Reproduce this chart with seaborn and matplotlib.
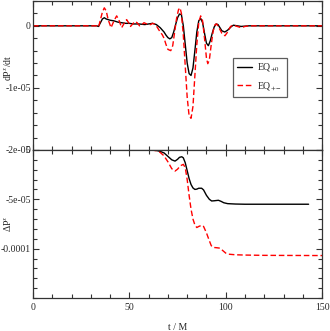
import numpy as np
import pandas as pd
import matplotlib
matplotlib.use("Agg")
import matplotlib.pyplot as plt
import seaborn as sns

# top panel: dP^x/dt (units of 1e-05)
t_rate_eq0 = [0, 30, 33, 34, 35, 36, 37, 38, 40, 42, 44, 46, 48, 50, 52, 55, 58, 60, 62, 64,
              66, 68, 69, 70, 71, 72, 73, 74, 75, 76, 77, 78, 79, 80, 81, 82, 83, 84, 85, 86,
              87, 88, 89, 90, 91, 92, 93, 94, 95, 96, 97, 98, 99.5, 101, 103, 104, 106, 108, 112, 150]
rate_eq0 = [0, 0, 0, -0.01, 0.05, 0.11, 0.13, 0.11, 0.09, 0.08, 0.06, 0.05, 0.04, 0.04, 0.03, 0.03, 0.02, 0.03, 0.04, 0.02,
            -0.03, -0.1, -0.15, -0.19, -0.21, -0.19, -0.1, 0.02, 0.13, 0.19, 0.18, 0.0, -0.3, -0.6, -0.77, -0.8, -0.68, -0.4, -0.1, 0.08,
            0.12, 0.05, -0.12, -0.28, -0.32, -0.24, -0.12, -0.02, 0.03, 0.02, -0.03, -0.08, -0.1, -0.07, -0.01, 0.01, 0.0, -0.01, 0.0, 0.0]

t_rate_eqpm = [0, 33, 34, 35, 36, 37, 38, 39, 40.5, 42, 43.4, 44.5, 46, 47.5, 48.6, 49.6, 50.6, 52, 53, 54,
               55.3, 56.5, 57.6, 59, 61, 62, 63, 64, 65, 66, 67, 68, 69, 70, 71.5, 72.5, 73.5, 74.5, 75.5, 76.3,
               77, 78, 79, 80, 81, 82, 83, 84, 85, 86, 87, 88, 89, 90, 90.7, 91.5, 92.5, 93.5, 94.5, 95.3,
               96.5, 98, 99.6, 101, 102.5, 104, 106, 108, 110, 112, 150]
rate_eqpm = [0, 0, -0.02, 0.1, 0.22, 0.29, 0.24, 0.1, -0.03, 0.08, 0.16, 0.1, -0.03, 0.05, 0.1, 0.05, -0.01, 0.04, 0.07, 0.05,
             0.0, 0.02, 0.05, 0.03, 0.02, 0.04, 0.03, 0.0, -0.05, -0.1, -0.14, -0.2, -0.3, -0.38, -0.4, -0.32, -0.1, 0.12, 0.26, 0.29,
             0.2, -0.15, -0.65, -1.15, -1.45, -1.49, -1.3, -0.8, -0.3, 0.05, 0.16, 0.08, -0.2, -0.52, -0.61, -0.55, -0.3, -0.08, 0.02, 0.03,
             -0.03, -0.12, -0.16, -0.1, -0.01, 0.01, -0.01, -0.03, -0.01, 0.0, 0.0]

# bottom panel: Delta P^x (units of 1e-05)
t_dp_eq0 = [57, 60, 62, 64, 66, 68, 70, 72, 73.7, 75, 76, 77.2, 78, 79, 80, 81, 82, 83, 84, 85,
            86, 87.5, 88.5, 90, 91.5, 92.7, 94, 96.2, 97.5, 99, 101, 105, 110, 143]
dp_eq0 = [0, 0, -0.02, -0.05, -0.15, -0.3, -0.65, -1.0, -1.13, -0.95, -0.75, -0.69, -0.8, -1.3, -2.1, -2.9, -3.5, -3.85, -4.0, -3.97,
          -3.88, -3.88, -4.05, -4.6, -5.0, -5.17, -5.15, -5.1, -5.2, -5.35, -5.44, -5.48, -5.5, -5.5]

t_dp_eqpm = [57, 60, 62, 64, 66, 68, 70, 72, 73.7, 75, 76.5, 78, 79, 80, 81, 82, 83, 84, 85, 86,
             87.6, 88.5, 90, 91.5, 92.5, 93.6, 95, 97, 98.5, 100, 101.4, 105, 110, 120, 150]
dp_eqpm = [0, 0, -0.02, -0.08, -0.25, -0.6, -1.2, -1.9, -2.14, -1.95, -1.6, -1.46, -1.8, -3.0, -4.6, -6.0, -7.0, -7.6, -7.86, -7.75,
           -7.63, -7.75, -8.4, -9.2, -9.7, -9.88, -9.9, -9.95, -10.2, -10.45, -10.56, -10.62, -10.65, -10.68, -10.7]

labels = ["EQ$_{+0}$", "EQ$_{+-}$"]

sns.set_style("ticks")
plt.rcParams["font.family"] = ["Liberation Serif", "DejaVu Serif"]
plt.rcParams["mathtext.fontset"] = "stix"

fs = 7
fig = plt.figure(figsize=(3.3, 3.31), dpi=100)
ax1 = fig.add_axes([0.1, 0.547, 0.876, 0.45])
ax2 = fig.add_axes([0.1, 0.0997, 0.876, 0.4473])

top = pd.concat([
    pd.DataFrame({"t": t_rate_eq0, "v": np.array(rate_eq0) * 1e-05, "run": labels[0]}),
    pd.DataFrame({"t": t_rate_eqpm, "v": np.array(rate_eqpm) * 1e-05, "run": labels[1]}),
])
bot = pd.concat([
    pd.DataFrame({"t": t_dp_eq0, "v": np.array(dp_eq0) * 1e-05, "run": labels[0]}),
    pd.DataFrame({"t": t_dp_eqpm, "v": np.array(dp_eqpm) * 1e-05, "run": labels[1]}),
])

pal = {labels[0]: "black", labels[1]: "red"}
dashes = {labels[0]: "", labels[1]: (4, 2)}

for ax, df in [(ax1, top), (ax2, bot)]:
    sns.lineplot(data=df, x="t", y="v", hue="run", style="run", palette=pal,
                 dashes=dashes, linewidth=1.0, ax=ax, legend=(ax is ax1), sort=False)
    ax.set_xlim(0, 150)
    ax.set_xticks([0, 50, 100, 150])
    ax.set_xticks(np.arange(0, 151, 10), minor=True)
    ax.tick_params(which="both", direction="in", top=True, right=True, labelsize=fs,
                   color="#333333", width=0.8)
    ax.tick_params(which="major", length=4.5)
    ax.tick_params(which="minor", length=2.7)
    ax.tick_params(axis="y", which="both", pad=1.5)
    for s in ax.spines.values():
        s.set_color("#333333")
        s.set_linewidth(0.9)

ax1.set_ylim(-2e-05, 0.4e-05)
ax1.set_yticks([0, -1e-05, -2e-05])
ax1.set_yticklabels(["0", "-1e-05", "-2e-05"])
ax1.set_yticks(np.arange(-2e-05, 0.41e-05, 0.2e-05), minor=True)
ax1.set_xticklabels([])
ax1.set_xlabel("")
ax1.set_ylabel("dP$^x$/dt", fontsize=fs)
ax1.yaxis.set_label_coords(-0.065, 0.55)

ax2.set_ylim(-0.00015, 0)
ax2.set_yticks([0, -5e-05, -0.0001])
ax2.set_yticklabels(["0", "-5e-05", "-0.0001"])
ax2.set_yticks(np.arange(-0.00015, 0.000001, 1e-05), minor=True)
ax2.set_xticklabels(["0", "50", "100", "150"])
ax2.set_xlabel("t / M", fontsize=fs)
ax2.set_ylabel("ΔP$^x$", fontsize=fs)
ax2.yaxis.set_label_coords(-0.065, 0.5)
ax2.xaxis.labelpad = 8

h, l = ax1.get_legend_handles_labels()
leg = ax1.legend(h, l, loc="center", bbox_to_anchor=(0.784, 0.487), fontsize=fs,
                 frameon=True, fancybox=False, edgecolor="#333333", handlelength=1.5,
                 handletextpad=0.6, borderpad=0.45, labelspacing=0.6, title=None)
leg.get_frame().set_linewidth(0.9)

fig.savefig("out.png", dpi=100)
